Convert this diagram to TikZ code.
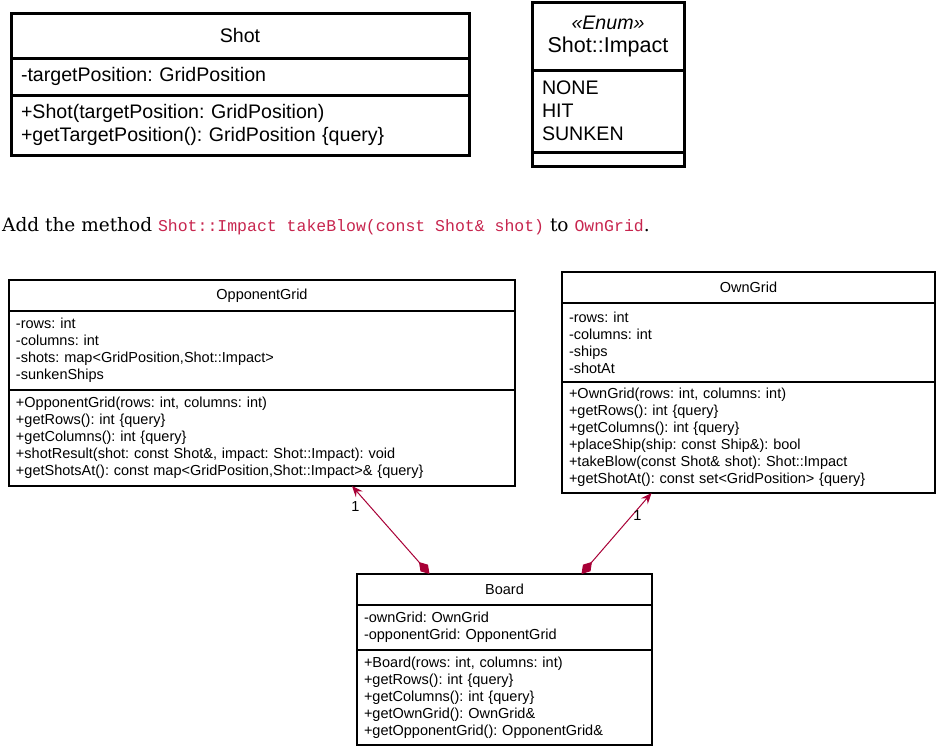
\documentclass[tikz,border=0pt]{standalone}
\usepackage{fontspec}
\setmainfont{DejaVu Serif}
\setsansfont{Liberation Sans}
\newfontfamily\codefont{Liberation Mono}
\usetikzlibrary{positioning,arrows.meta}
\frenchspacing

\definecolor{umlred}{HTML}{A80036}
\definecolor{codered}{HTML}{C7254E}
\newcommand{\codetxt}[1]{{\color{codered}\codefont\fontsize{16.5}{20}\selectfont #1}}

\begin{document}
\begin{tikzpicture}[x=1pt, y=-1pt,
		big/.style = {draw, line width=3pt, outer sep=0pt, inner xsep=10pt, inner ysep=0pt, align=left, font=\sffamily\fontsize{19.6}{23}\selectfont},
		small/.style = {draw, line width=1.5pt, outer sep=0pt, inner xsep=7pt, inner ysep=0pt, align=left, font=\sffamily\fontsize{14.5}{17}\selectfont},
		shotcls/.style = {big, text width=438pt},
		enumcls/.style = {big, text width=132pt},
		oppcls/.style = {small, text width=492pt},
		owncls/.style = {small, text width=359pt},
		boardcls/.style = {small, text width=281pt},
		ttl/.style = {align=center},
		assoc/.style = {umlred, line width=1pt, {Diamond[length=16pt,width=10pt]}-{Stealth[length=11pt,width=9pt,inset=4pt]}},
		mult/.style = {text=black, font=\sffamily\fontsize{14.5}{17}\selectfont, inner sep=0pt}
		]
		\useasboundingbox (0,0) rectangle (942,753);
		
		%Shot
		\node[shotcls, ttl, minimum height=45pt, anchor=north west]	(shotHead)	at	(11, 13)	{Shot};
		\node[shotcls, minimum height=37pt, below=0pt of shotHead]	(shotAttr)	{-targetPosition: GridPosition};
		\node[shotcls, minimum height=60pt, below=0pt of shotAttr]	(shotOps)	{+Shot(targetPosition: GridPosition)\\+getTargetPosition(): GridPosition \{query\}};
		
		%Shot::Impact
		\node[enumcls, ttl, minimum height=68pt, anchor=north west]	(impHead)	at	(532, 2)	{{\itshape «Enum»}\\{\fontsize{21.5}{24}\selectfont Shot::Impact}};
		\node[enumcls, minimum height=82pt, below=0pt of impHead]	(impVals)	{NONE\\HIT\\SUNKEN};
		\node[enumcls, minimum height=14pt, below=0pt of impVals]	(impOps)	{};
		
		%Text
		\node[anchor=base west, inner sep=0pt, font=\fontsize{18.5}{22}\selectfont]	(task)	at	(2, 231)
			{Add the method \codetxt{Shot::Impact takeBlow(const Shot\& shot)} to \codetxt{OwnGrid}.};
		
		%OpponentGrid
		\node[oppcls, ttl, minimum height=31pt, anchor=north west]	(oppHead)	at	(9, 280)	{OpponentGrid};
		\node[oppcls, minimum height=79pt, below=0pt of oppHead]	(oppAttr)
			{-rows: int\\-columns: int\\-shots: map<GridPosition,Shot::Impact>\\-sunkenShips};
		\node[oppcls, minimum height=96pt, below=0pt of oppAttr]	(oppOps)
			{+OpponentGrid(rows: int, columns: int)\\+getRows(): int \{query\}\\+getColumns(): int \{query\}\\+shotResult(shot: const Shot\&, impact: Shot::Impact): void\\+getShotsAt(): const map<GridPosition,Shot::Impact>\& \{query\}};
		
		%OwnGrid
		\node[owncls, ttl, minimum height=31pt, anchor=north west]	(ownHead)	at	(562, 272)	{OwnGrid};
		\node[owncls, minimum height=79pt, below=0pt of ownHead]	(ownAttr)
			{-rows: int\\-columns: int\\-ships\\-shotAt};
		\node[owncls, minimum height=111pt, below=0pt of ownAttr]	(ownOps)
			{+OwnGrid(rows: int, columns: int)\\+getRows(): int \{query\}\\+getColumns(): int \{query\}\\+placeShip(ship: const Ship\&): bool\\+takeBlow(const Shot\& shot): Shot::Impact\\+getShotAt(): const set<GridPosition> \{query\}};
		
		%Board
		\node[boardcls, ttl, minimum height=31pt, anchor=north west]	(boardHead)	at	(357, 574)	{Board};
		\node[boardcls, minimum height=45pt, below=0pt of boardHead]	(boardAttr)
			{-ownGrid: OwnGrid\\-opponentGrid: OpponentGrid};
		\node[boardcls, minimum height=95pt, below=0pt of boardAttr]	(boardOps)
			{+Board(rows: int, columns: int)\\+getRows(): int \{query\}\\+getColumns(): int \{query\}\\+getOwnGrid(): OwnGrid\&\\+getOpponentGrid(): OpponentGrid\&};
		
		%Lines
		\draw[assoc]	([xshift=-75pt]boardHead.north)	--	node[mult, pos=0.77, left=10pt]	(oppMult)	{1}	([xshift=90pt]oppOps.south);
		\draw[assoc]	([xshift=77pt]boardHead.north)	--	node[mult, pos=0.72, right=1pt]	(ownMult)	{1}	([xshift=-97pt]ownOps.south);
	\end{tikzpicture}
\end{document}
